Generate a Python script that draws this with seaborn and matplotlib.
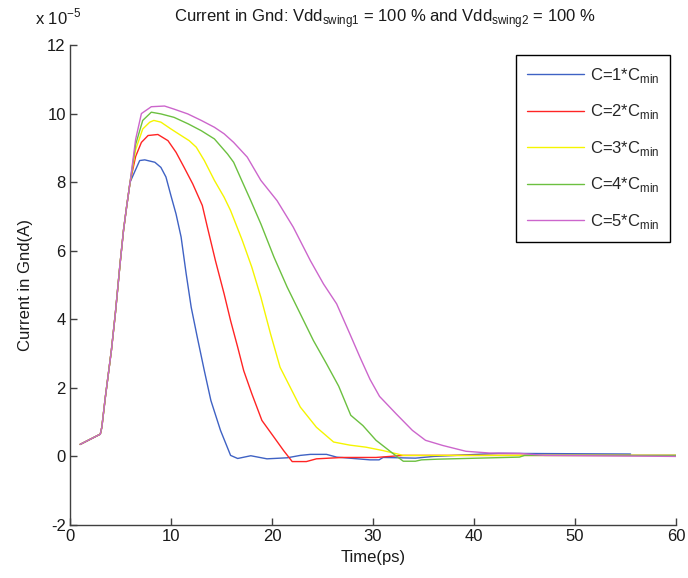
import matplotlib
matplotlib.use("Agg")
import matplotlib.pyplot as plt
import numpy as np
import pandas as pd
import seaborn as sns

# shared rising edge (all five curves overlap here), values in 1e-5 A
t_rise = [1.0, 3.0, 3.15, 3.5, 4.1, 4.5, 4.95, 5.3, 5.6, 5.95]
i_rise = [0.35, 0.65, 0.85, 1.73, 3.1, 4.2, 5.6, 6.6, 7.27, 8.0]

t_c1 = [6.4, 6.9, 7.4, 8.4, 9.0, 9.5, 10.0, 10.5, 11.0, 11.5, 12.0, 12.6, 13.3, 13.95,
        14.9, 15.9, 16.6, 17.9, 19.5, 21.5, 22.8, 23.8, 25.4, 26.4, 29.7, 30.6, 31.0,
        34.2, 36.0, 42.4, 55.5]
i_c1 = [8.3, 8.63, 8.65, 8.58, 8.43, 8.15, 7.6, 7.07, 6.4, 5.33, 4.35, 3.48, 2.5, 1.63,
        0.76, 0.03, -0.06, 0.02, -0.07, -0.04, 0.03, 0.06, 0.06, -0.02, -0.1, -0.1, -0.03,
        -0.05, 0.0, 0.09, 0.07]

t_c2 = [6.5, 7.07, 7.73, 8.7, 9.7, 10.5, 11.3, 12.15, 13.1, 13.6, 14.4, 15.26, 15.9,
        16.6, 17.2, 18.0, 19.0, 20.2, 21.15, 22.0, 23.4, 24.4, 27.0, 30.3, 33.0, 60.0]
i_c2 = [8.75, 9.16, 9.36, 9.39, 9.21, 8.87, 8.43, 7.95, 7.32, 6.69, 5.71, 4.74, 3.96,
        3.19, 2.5, 1.83, 1.05, 0.56, 0.17, -0.15, -0.15, -0.07, -0.03, -0.03, 0.03, 0.03]

t_c3 = [6.5, 7.2, 7.9, 8.3, 9.0, 10.0, 11.0, 11.8, 12.5, 13.3, 14.3, 15.26, 15.9, 17.06,
        18.0, 18.9, 19.85, 20.8, 21.8, 22.8, 24.4, 26.1, 27.7, 29.3, 31.0, 32.3, 33.0, 60.0]
i_c3 = [8.95, 9.55, 9.75, 9.8, 9.75, 9.55, 9.36, 9.21, 9.02, 8.63, 8.05, 7.56, 7.17, 6.3,
        5.52, 4.64, 3.58, 2.6, 2.02, 1.44, 0.85, 0.42, 0.33, 0.27, 0.17, 0.08, 0.03, 0.03]

t_c4 = [6.5, 7.2, 8.05, 9.0, 10.3, 11.7, 13.0, 14.3, 15.6, 16.2, 17.0, 17.9, 18.9, 20.2,
        21.5, 22.8, 24.1, 25.4, 26.6, 27.8, 29.0, 30.3, 32.0, 33.0, 34.2, 34.8, 36.4,
        44.5, 45.0, 60.0]
i_c4 = [9.1, 9.8, 10.04, 9.99, 9.89, 9.7, 9.5, 9.26, 8.82, 8.58, 8.05, 7.46, 6.78, 5.81,
        4.94, 4.16, 3.38, 2.7, 2.05, 1.2, 0.9, 0.47, 0.08, -0.14, -0.14, -0.1, -0.08,
        -0.02, 0.03, 0.03]

t_c5 = [6.5, 7.07, 8.05, 9.36, 10.3, 11.66, 13.0, 14.3, 15.26, 16.2, 17.55, 18.9, 20.5,
        22.1, 23.8, 25.1, 26.4, 27.7, 28.7, 29.7, 30.65, 32.3, 33.9, 35.2, 36.9, 39.2,
        41.5, 44.5, 47.0, 60.0]
i_c5 = [9.25, 10.0, 10.2, 10.22, 10.13, 9.99, 9.8, 9.6, 9.41, 9.16, 8.73, 8.05, 7.46,
        6.69, 5.71, 5.03, 4.45, 3.58, 2.9, 2.25, 1.75, 1.24, 0.76, 0.47, 0.32, 0.15,
        0.1, 0.09, 0.03, 0.0]

labels = ["C=1*C$_{\\mathregular{min}}$", "C=2*C$_{\\mathregular{min}}$",
          "C=3*C$_{\\mathregular{min}}$", "C=4*C$_{\\mathregular{min}}$",
          "C=5*C$_{\\mathregular{min}}$"]
colors = ["#3f62c4", "#ff2424", "#f5f500", "#6cc040", "#cc66cc"]

frames = []
for lab, tt, ii in zip(labels, [t_c1, t_c2, t_c3, t_c4, t_c5],
                       [i_c1, i_c2, i_c3, i_c4, i_c5]):
    frames.append(pd.DataFrame({"time": t_rise + tt, "current": i_rise + ii, "series": lab}))
df = pd.concat(frames, ignore_index=True)

sns.set_theme(style="white")
plt.rcParams["font.family"] = ["Liberation Sans", "DejaVu Sans"]
plt.rcParams["mathtext.fontset"] = "custom"
plt.rcParams["mathtext.rm"] = "Liberation Sans"
plt.rcParams["axes.unicode_minus"] = False

fig = plt.figure(figsize=(6.88, 5.78), dpi=100)
ax = fig.add_axes([70 / 688, 1 - 525 / 578, 606 / 688, 480 / 578])

sns.lineplot(data=df, x="time", y="current", hue="series", palette=colors,
             sort=False, estimator=None, linewidth=1.0, ax=ax)

ax.set_xlim(0, 60)
ax.set_ylim(-2, 12)
ax.set_xticks(np.arange(0, 61, 10))
ax.set_yticks(np.arange(-2, 13, 2))
for s in ["top", "right"]:
    ax.spines[s].set_visible(False)
for s in ["left", "bottom"]:
    ax.spines[s].set_color("#404040")
    ax.spines[s].set_linewidth(1.0)
ax.tick_params(direction="in", length=5, width=1, color="#404040",
               labelsize=12, labelcolor="#1a1a1a", pad=3,
               bottom=True, left=True)

ax.set_xlabel("Time(ps)", fontsize=12, color="#1a1a1a", labelpad=4)
ax.set_ylabel("Current in Gnd(A)", fontsize=12, color="#1a1a1a", labelpad=10)

fig.text(385 / 688, 1 - 22 / 578,
         "Current in Gnd: Vdd$_{\\mathregular{swing1}}$ = 100 % and Vdd$_{\\mathregular{swing2}}$ = 100 %",
         ha="center", va="baseline", fontsize=12, color="#1a1a1a")
fig.text(35 / 688, 1 - 24 / 578, "x 10$^{\\mathregular{-5}}$",
         ha="left", va="baseline", fontsize=12, color="#1a1a1a")

leg = ax.legend(loc="upper right", bbox_to_anchor=(670 / 688, 1 - 55 / 578),
                bbox_transform=fig.transFigure, borderaxespad=0, fontsize=12,
                handlelength=3.4, labelspacing=1.05, fancybox=False,
                frameon=True, borderpad=0.65, handletextpad=0.35)
leg.get_frame().set_edgecolor("black")
leg.get_frame().set_linewidth(1.0)
leg.get_frame().set_alpha(1)

fig.savefig("out.png", dpi=100)
